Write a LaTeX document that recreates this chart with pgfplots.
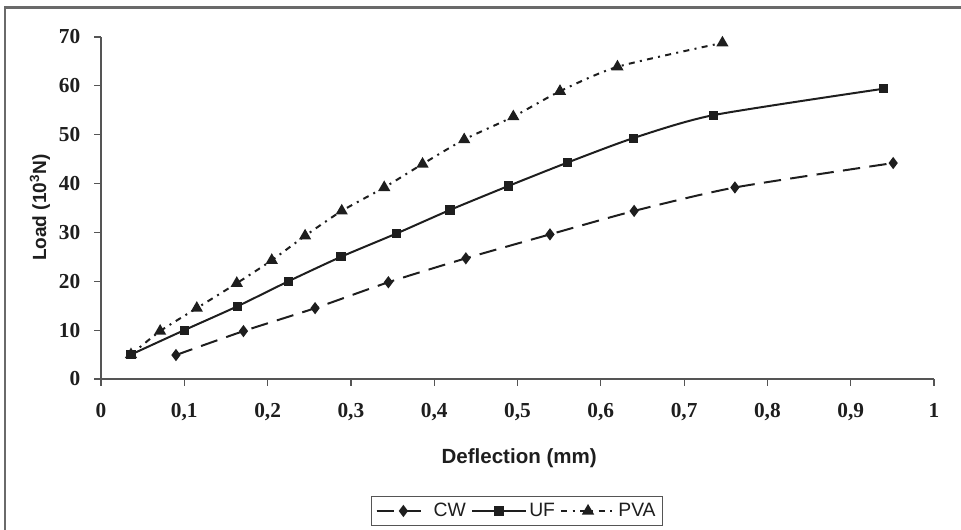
\documentclass[border=0pt]{standalone}
\usepackage{fontspec}
\setmainfont{Liberation Serif}
\setsansfont{Liberation Sans}
\usepackage{pgfplots}
\pgfplotsset{compat=1.18}
\definecolor{ln}{HTML}{1E1E1E}
\definecolor{ax}{HTML}{555555}
\definecolor{fr}{HTML}{6A6A6A}
\begin{document}
\begin{tikzpicture}
\useasboundingbox (-75.75pt,-113.25pt) rectangle (645pt,284.25pt);
\draw[fr, line width=1.6pt] (-72pt,-114pt) -- (-72pt,278.6pt) -- (646pt,278.6pt);
\begin{axis}[
  at={(0,0)}, anchor=origin,
  scale only axis, width=624.75pt, height=256.5pt,
  xmin=0, xmax=1, ymin=0, ymax=70,
  axis x line*=bottom, axis y line*=left,
  axis line style={ax, line width=0.9pt, -},
  tick style={ax, line width=0.9pt},
  tick align=outside, major tick length=5pt,
  xtick={0,0.1,0.2,0.3,0.4,0.5,0.6,0.7,0.8,0.9,1},
  xticklabels={0,{0,1},{0,2},{0,3},{0,4},{0,5},{0,6},{0,7},{0,8},{0,9},1},
  ytick={0,10,20,30,40,50,60,70},
  yticklabels={0,10,20,30,40,50,60,70},
  ticklabel style={font=\fontsize{16}{18}\selectfont\bfseries, text=ln},
  xticklabel style={yshift=-10pt},
  yticklabel style={xshift=-7pt},
  xlabel={Deflection (mm)},
  ylabel={Load (10\textsuperscript{3}N)},
  xlabel style={font=\sffamily\bfseries\fontsize{15.4}{17}\selectfont, text=ln, at={(axis description cs:0.502,-0.231)}, anchor=center},
  ylabel style={font=\sffamily\bfseries\fontsize{14.3}{16}\selectfont, text=ln, at={(axis description cs:-0.0732,0.501)}, anchor=center},
  legend columns=3,
  legend style={at={(axis description cs:0.4994,-0.342)}, anchor=north,
    draw=ax, line width=0.9pt, font=\sffamily\fontsize{14.5}{16}\selectfont, text=ln,
    inner sep=3pt,
    /tikz/every even column/.append style={column sep=2pt}},
  legend image code/.code={\draw[#1] (0pt,0pt) -- (20pt,0pt); \draw[#1,mark repeat=2,mark phase=2] plot coordinates {(0pt,0pt) (20pt,0pt) (40pt,0pt)};},
  legend cell align=left,
  clip=false,
]
\addplot[ln, line width=1.5pt, dash pattern=on 13pt off 7pt, smooth, tension=0.4,
  mark=diamond*, mark size=3.4pt, mark options={solid, fill=ln}]
coordinates {(0.090,4.9) (0.171,9.8) (0.257,14.5) (0.345,19.8) (0.438,24.7) (0.539,29.6) (0.640,34.4) (0.761,39.2) (0.951,44.2)};
\addlegendentry{CW}
\addplot[ln, line width=1.5pt, smooth, tension=0.4,
  mark=square*, mark size=2.7pt, mark options={solid, fill=ln}]
coordinates {(0.036,5.0) (0.100,10.0) (0.164,14.9) (0.225,20.0) (0.288,25.0) (0.355,29.8) (0.419,34.6) (0.489,39.5) (0.560,44.3) (0.639,49.3) (0.735,54.0) (0.939,59.4)};
\addlegendentry{UF}
\addplot[ln, line width=1.5pt, dash pattern=on 4.5pt off 4pt on 1.5pt off 4pt, smooth, tension=0.4,
  mark=triangle*, mark size=3.8pt, mark options={solid, fill=ln}]
coordinates {(0.036,5.0) (0.071,9.8) (0.115,14.5) (0.163,19.6) (0.205,24.3) (0.245,29.3) (0.289,34.4) (0.340,39.2) (0.386,44.0) (0.436,49.0) (0.495,53.7) (0.551,58.9) (0.620,63.9) (0.746,68.8)};
\addlegendentry{PVA}
\end{axis}
\end{tikzpicture}
\end{document}
